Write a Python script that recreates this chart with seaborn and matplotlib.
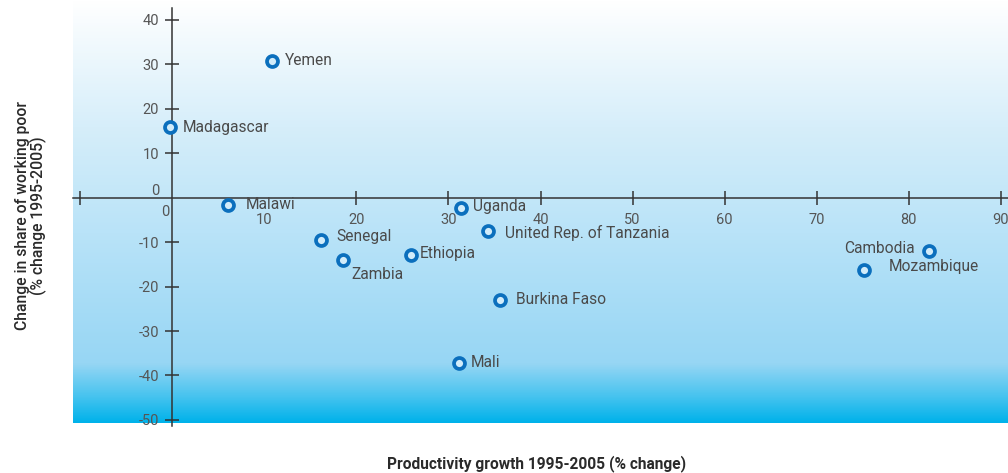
import numpy as np
import pandas as pd
import seaborn as sns
import matplotlib.pyplot as plt
from matplotlib.colors import LinearSegmentedColormap
from matplotlib.transforms import ScaledTranslation

# --- data ---
countries = ["Yemen", "Madagascar", "Malawi", "Uganda", "United Rep. of Tanzania",
             "Senegal", "Zambia", "Ethiopia", "Burkina Faso", "Mali",
             "Cambodia", "Mozambique"]
productivity = [10.8, -0.3, 6.0, 31.4, 34.3, 16.2, 18.5, 25.9, 35.6, 31.1, 82.2, 75.2]
poor_change = [30.8, 15.9, -1.6, -2.3, -7.5, -9.5, -14.0, -12.9, -23.0, -37.2, -12.0, -16.3]

x_ticks = [-10, 0, 10, 20, 30, 40, 50, 60, 70, 80, 90]
y_ticks = [-50, -40, -30, -20, -10, 0, 10, 20, 30, 40]

# label placement: (dx px, dy px, ha)
label_offsets = {
    "Yemen": (13, 0, "left"), "Madagascar": (13, 0, "left"), "Malawi": (18, 0, "left"),
    "Uganda": (12, 1, "left"), "United Rep. of Tanzania": (17, -2, "left"),
    "Senegal": (15, 3, "left"), "Zambia": (9, -15, "left"), "Ethiopia": (9, 2, "left"),
    "Burkina Faso": (16, 0, "left"), "Mali": (12, 1, "left"),
    "Cambodia": (-14, 3, "right"), "Mozambique": (24, 4, "left"),
}

df = pd.DataFrame({"country": countries, "x": productivity, "y": poor_change})

sns.set_style("white")
plt.rcParams["font.family"] = ["Roboto", "DejaVu Sans"]
text_col = "#4a4a4a"

fig = plt.figure(figsize=(10.08, 4.73), dpi=100)
ax = fig.add_axes([73 / 1008, 1 - 423 / 473, 935 / 1008, 423 / 473])

xlim = (-10.8, 90.8)
ylim = (-50.7, 44.5)

# --- gradient background ---
cmap = LinearSegmentedColormap.from_list("bg", [
    (0.0, "#00b2ea"), (0.06, "#45c3ef"), (0.14, "#97d6f4"),
    (0.45, "#b9e3f8"), (0.7, "#d6eefa"), (1.0, "#ffffff")])
grad = np.linspace(0, 1, 256).reshape(-1, 1)
ax.imshow(grad, extent=[xlim[0], xlim[1], ylim[0], ylim[1]], origin="lower",
          aspect="auto", cmap=cmap, zorder=0)

# --- points ---
sns.scatterplot(data=df, x="x", y="y", ax=ax, s=62, color="#d2ecfa",
                edgecolor="#0b6fbd", linewidth=2.7, zorder=3, legend=False)

for c, x, y in zip(countries, productivity, poor_change):
    dx, dy, ha = label_offsets[c]
    ax.annotate(c, (x, y), xytext=(dx, dy), textcoords="offset pixels",
                ha=ha, va="center", fontsize=11.2, color=text_col, zorder=4)

ax.set_xlim(*xlim)
ax.set_ylim(*ylim)

# --- axes through the origin ---
for s in ["top", "right"]:
    ax.spines[s].set_visible(False)
ax.spines["left"].set_position(("data", 0))
ax.spines["bottom"].set_position(("data", 0))
ax.spines["left"].set_bounds(-51.4, 42.8)
for s in ["left", "bottom"]:
    ax.spines[s].set_color("#333333")
    ax.spines[s].set_linewidth(1.1)
    ax.spines[s].set_zorder(2)

ax.set_xticks(x_ticks)
ax.set_xticklabels(["" if t == -10 else str(t) for t in x_ticks])
ax.set_yticks(y_ticks)
ax.set_yticklabels([str(t) for t in y_ticks])
ax.tick_params(axis="both", bottom=True, left=True, direction="inout", length=10,
               width=1.1, color="#333333", labelsize=10.5, labelcolor="#555555")
ax.tick_params(axis="x", pad=6)
ax.tick_params(axis="y", pad=4.5)

# hide tick marks at origin and at 10
for i, t in enumerate(x_ticks):
    if t in (0, 10):
        ax.xaxis.get_major_ticks()[i].tick1line.set_visible(False)
for i, t in enumerate(y_ticks):
    if t == 0:
        ax.yaxis.get_major_ticks()[i].tick1line.set_visible(False)

# nudge the two zero labels like the reference
fig.canvas.draw()
for lbl in ax.get_xticklabels():
    if lbl.get_text() == "0":
        lbl.set_transform(lbl.get_transform() + ScaledTranslation(-7 / 100, 8 / 100, fig.dpi_scale_trans))
for lbl in ax.get_yticklabels():
    if lbl.get_text() == "0":
        lbl.set_transform(lbl.get_transform() + ScaledTranslation(0, 8 / 100, fig.dpi_scale_trans))

ax.set_xlabel("Productivity growth 1995-2005 (% change)", fontsize=11.2,
              fontweight="bold", color="#2a2a2a")
ax.xaxis.set_label_coords(0.496, -0.075)
ax.set_ylabel("Change in share of working poor\n(% change 1995-2005)", fontsize=11.3,
              fontweight="medium", color="#2a2a2a", linespacing=0.95)
ax.yaxis.set_label_coords(-0.028, 0.49)

fig.savefig("out.png", dpi=100)
